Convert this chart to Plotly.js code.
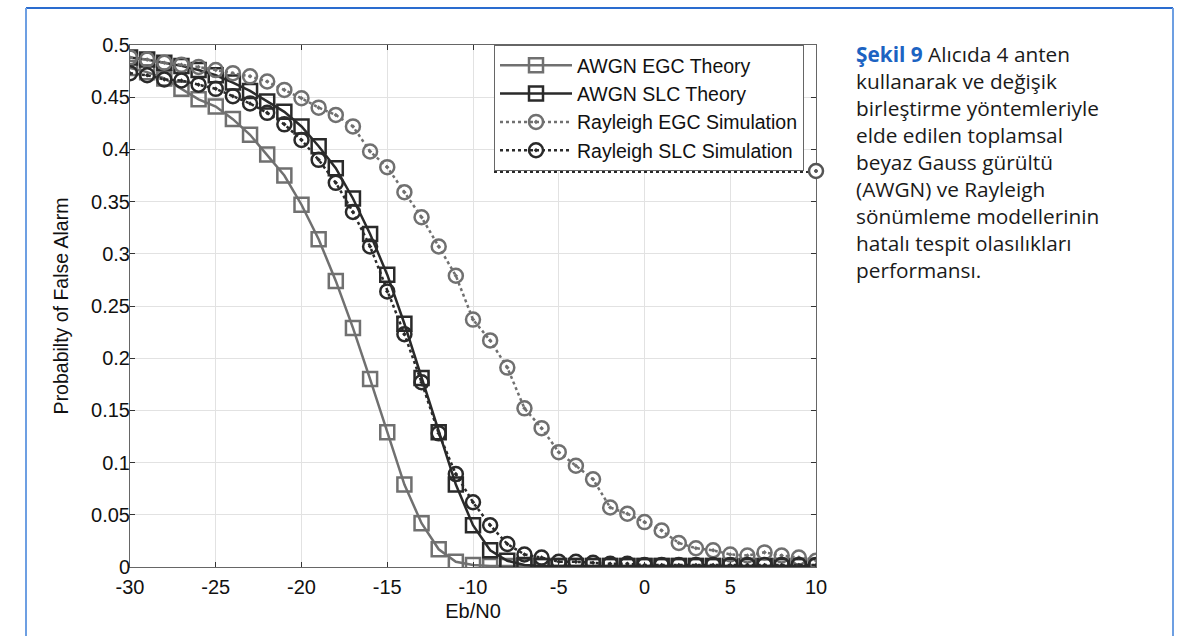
<!DOCTYPE html>
<html>
<head>
<meta charset="utf-8">
<script src="https://cdn.plot.ly/plotly-3.0.1.min.js"></script>
<style>
  html, body { margin: 0; padding: 0; background: #ffffff; }
  #chart { width: 1183px; height: 636px; }
</style>
</head>
<body>
<div id="chart"></div>
<script>
// Eb/N0 (dB)
const ebn0 = [-30,-29,-28,-27,-26,-25,-24,-23,-22,-21,-20,-19,-18,-17,-16,-15,-14,-13,-12,-11,-10,-9,-8,-7,-6,-5,-4,-3,-2,-1,0,1,2,3,4,5,6,7,8,9,10];

const awgnEgcTheory = [0.478,0.474,0.468,0.458,0.448,0.441,0.429,0.414,0.395,0.375,0.347,0.314,0.274,0.229,0.180,0.129,0.079,0.042,0.017,0.005,0.002,0.001,0.001,0.001,0.001,0.001,0.001,0.001,0.001,0.001,0.001,0.001,0.001,0.001,0.001,0.001,0.001,0.001,0.001,0.001,0.001];

const awgnSlcTheory = [0.488,0.486,0.483,0.480,0.476,0.471,0.464,0.456,0.446,0.436,0.422,0.403,0.382,0.353,0.319,0.280,0.233,0.181,0.129,0.079,0.040,0.016,0.006,0.002,0.001,0.001,0.001,0.001,0.001,0.001,0.001,0.001,0.001,0.001,0.001,0.001,0.001,0.001,0.001,0.001,0.001];

const rayleighEgcSim = [0.488,0.486,0.483,0.481,0.479,0.476,0.473,0.470,0.465,0.457,0.449,0.440,0.433,0.422,0.398,0.383,0.359,0.335,0.307,0.279,0.237,0.217,0.191,0.152,0.133,0.110,0.097,0.084,0.057,0.051,0.043,0.035,0.023,0.018,0.016,0.012,0.011,0.014,0.011,0.009,0.006];

const rayleighSlcSim = [0.473,0.471,0.467,0.466,0.462,0.458,0.451,0.444,0.435,0.424,0.409,0.390,0.368,0.340,0.307,0.264,0.223,0.177,0.128,0.089,0.062,0.040,0.022,0.012,0.009,0.005,0.005,0.004,0.003,0.003,0.002,0.002,0.002,0.002,0.002,0.002,0.002,0.002,0.002,0.002,0.002];

const seriesNames = ["AWGN EGC Theory","AWGN SLC Theory","Rayleigh EGC Simulation","Rayleigh SLC Simulation"];

const xTicks = [-30,-25,-20,-15,-10,-5,0,5,10];
const yTicks = [0,0.05,0.1,0.15,0.2,0.25,0.3,0.35,0.4,0.45,0.5];
const yTickText = ["0","0.05","0.1","0.15","0.2","0.25","0.3","0.35","0.4","0.45","0.5"];

const captionTitle = "Şekil 9";
const captionLines = ["Alıcıda 4 anten","kullanarak ve değişik","birleştirme yöntemleriyle","elde edilen toplamsal","beyaz Gauss gürültü","(AWGN) ve Rayleigh","sönümleme modellerinin","hatalı tespit olasılıkları","performansı."];

const GRAY = "#707070", DARK = "#2a2a2a";

const traces = [
  { x: ebn0, y: awgnEgcTheory, name: seriesNames[0], mode: "lines+markers",
    line: { color: GRAY, width: 2.5 },
    marker: { symbol: "square-open", size: 14, color: GRAY, line: { width: 2.5, color: GRAY } } },
  { x: ebn0, y: awgnSlcTheory, name: seriesNames[1], mode: "lines+markers",
    line: { color: DARK, width: 2.5 },
    marker: { symbol: "square-open", size: 14, color: DARK, line: { width: 2.5, color: DARK } } },
  { x: ebn0, y: rayleighEgcSim, name: seriesNames[2], mode: "lines+markers",
    line: { color: GRAY, width: 2.5, dash: "dot" },
    marker: { symbol: "circle-open-dot", size: 14, color: GRAY, line: { width: 2.5, color: GRAY } } },
  { x: ebn0, y: rayleighSlcSim, name: seriesNames[3], mode: "lines+markers",
    line: { color: DARK, width: 2.5, dash: "dot" },
    marker: { symbol: "circle-open-dot", size: 14, color: DARK, line: { width: 2.5, color: DARK } } }
];

const FONT = "Liberation Sans, Arial, sans-serif";
const L = 130, R = 816, T = 45, B = 567;
const plotW = R - L, plotH = B - T;
function px2x(p) { return (p - L) / plotW; }
function px2y(p) { return (B - p) / plotH; }

const captionText = "<b><span style='color:#1c63c2'>" + captionTitle + "</span></b> " + captionLines.join("<br>");

const layout = {
  width: 1183, height: 636,
  margin: { l: L, r: 1183 - R, t: T, b: 636 - B },
  paper_bgcolor: "#ffffff", plot_bgcolor: "#ffffff",
  font: { family: FONT, size: 20, color: "#111111" },
  showlegend: true,
  legend: {
    x: px2x(494), y: 1, xanchor: "left", yanchor: "top",
    bgcolor: "#ffffff", bordercolor: "#666666", borderwidth: 1,
    font: { family: FONT, size: 19.5, color: "#111111" },
    itemwidth: 72, tracegroupgap: 0
  },
  xaxis: {
    range: [-30, 10], tickvals: xTicks, ticktext: xTicks.map(String),
    showgrid: true, gridcolor: "#e2e2e2", gridwidth: 1, zeroline: false,
    showline: true, linecolor: "#666666", linewidth: 1, mirror: "ticks",
    ticks: "inside", ticklen: 5, tickcolor: "#333333", ticklabelstandoff: 2,
    tickfont: { family: FONT, size: 20, color: "#111111" },
    title: { text: "Eb/N0", font: { family: FONT, size: 20, color: "#111111" }, standoff: 6 }
  },
  yaxis: {
    range: [0, 0.5], tickvals: yTicks, ticktext: yTickText,
    showgrid: true, gridcolor: "#e2e2e2", gridwidth: 1, zeroline: false,
    showline: true, linecolor: "#666666", linewidth: 1, mirror: "ticks",
    ticks: "inside", ticklen: 5, tickcolor: "#333333", ticklabelstandoff: -5,
    tickfont: { family: FONT, size: 20, color: "#111111" },
    title: { text: "Probabilty of False Alarm", font: { family: FONT, size: 19.5, color: "#111111" }, standoff: 17 }
  },
  annotations: [
    { xref: "paper", yref: "paper", x: px2x(854), y: px2y(38), xanchor: "left", yanchor: "top",
      align: "left", showarrow: false, text: captionText,
      font: { family: "Open Sans, Noto Sans, sans-serif", size: 20.8, color: "#1a1a1a" } }
  ],
  shapes: [
    // blue frame
    { type: "line", xref: "paper", yref: "paper", x0: px2x(26), x1: px2x(1173), y0: px2y(8), y1: px2y(8), line: { color: "#2a6ccf", width: 2 } },
    { type: "line", xref: "paper", yref: "paper", x0: px2x(26), x1: px2x(26), y0: px2y(8), y1: px2y(640), line: { color: "#6d9fe2", width: 2 } },
    { type: "line", xref: "paper", yref: "paper", x0: px2x(1173), x1: px2x(1173), y0: px2y(8), y1: px2y(640), line: { color: "#6d9fe2", width: 2 } },
    // dotted legend bottom edge artefact
    { type: "line", xref: "paper", yref: "paper", x0: px2x(494), x1: px2x(816), y0: px2y(172), y1: px2y(172), line: { color: DARK, width: 2, dash: "dot" } },
    { type: "circle", xref: "paper", yref: "paper", xsizemode: "pixel", ysizemode: "pixel",
      xanchor: px2x(816), yanchor: px2y(171), x0: -7, x1: 7, y0: -7, y1: 7, line: { color: "#555555", width: 2.5 }, fillcolor: "#ffffff" },
    { type: "circle", xref: "paper", yref: "paper", xsizemode: "pixel", ysizemode: "pixel",
      xanchor: px2x(816), yanchor: px2y(171), x0: -1.5, x1: 1.5, y0: -1.5, y1: 1.5, line: { color: "#555555", width: 1 }, fillcolor: "#555555" }
  ]
};

Plotly.newPlot("chart", traces, layout, { displayModeBar: false, staticPlot: true });
</script>
</body>
</html>
